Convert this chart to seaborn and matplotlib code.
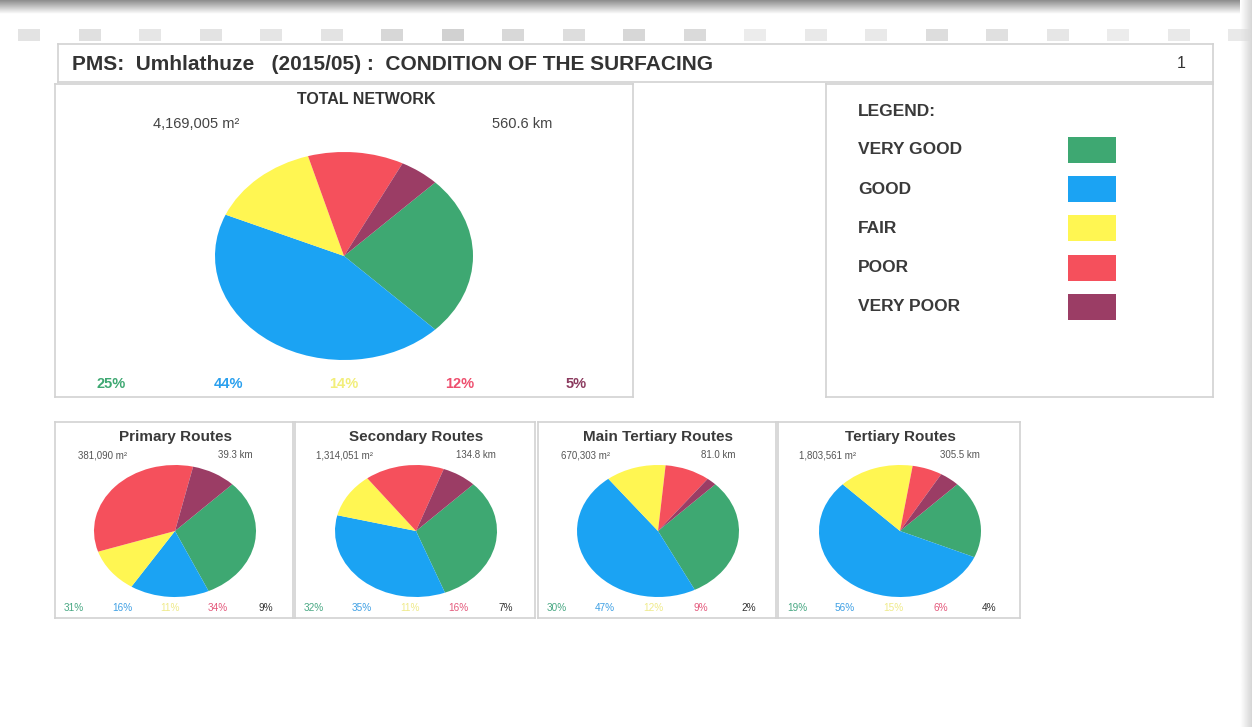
import numpy as np
import matplotlib
matplotlib.use("Agg")
import matplotlib.pyplot as plt
import seaborn as sns

# ---- data -------------------------------------------------------------
conditions = ["VERY GOOD", "GOOD", "FAIR", "POOR", "VERY POOR"]
condition_colors = ["#3EA872", "#1BA3F3", "#FFF652", "#F5505C", "#9B3D65"]
pct_colors_total = ["#3EA872", "#2AA0EE", "#F2EE7A", "#EE4F6E", "#8B3A5E"]
pct_colors_small = ["#48A883", "#3FA0E4", "#EFEA8A", "#E45A7C", "#333333"]

total_pct = [25, 44, 14, 12, 5]
total_area = "4,169,005 m²"
total_length = "560.6 km"

route_names = ["Primary Routes", "Secondary Routes", "Main Tertiary Routes", "Tertiary Routes"]
route_areas = ["381,090 m²", "1,314,051 m²", "670,303 m²", "1,803,561 m²"]
route_lengths = ["39.3 km", "134.8 km", "81.0 km", "305.5 km"]
primary_pct = [31, 16, 11, 34, 9]
secondary_pct = [32, 35, 11, 16, 7]
main_tertiary_pct = [30, 47, 12, 9, 2]
tertiary_pct = [19, 56, 15, 6, 4]
route_pcts = [primary_pct, secondary_pct, main_tertiary_pct, tertiary_pct]

# ---- styling ------------------------------------------------------------
sns.set_theme(style="white")
plt.rcParams["font.family"] = ["Liberation Sans", "DejaVu Sans"]

W, H = 1252, 727
fig = plt.figure(figsize=(W / 100, H / 100), dpi=100)
fig.patch.set_facecolor("white")


def px_axes(x0, y0, x1, y1, **kw):
    return fig.add_axes([x0 / W, 1 - y1 / H, (x1 - x0) / W, (y1 - y0) / H], **kw)


def px_text(x, y, s, **kw):
    kw.setdefault("ha", "center")
    kw.setdefault("va", "center")
    fig.text(x / W, 1 - y / H, s, **kw)


def box(x0, y0, x1, y1, edge="#d2d2d2"):
    ax = px_axes(x0, y0, x1, y1)
    ax.set_xticks([])
    ax.set_yticks([])
    ax.set_facecolor("none")
    for sp in ax.spines.values():
        sp.set_color(edge)
        sp.set_linewidth(1.2)
    return ax


def draw_pie(cx, cy, rx, ry, values):
    ax = px_axes(cx - rx, cy - ry, cx + rx, cy + ry)
    ax.pie(values, colors=condition_colors, startangle=45, counterclock=False,
           radius=1, wedgeprops=dict(linewidth=0, antialiased=True))
    ax.set_aspect("auto")
    ax.set_xlim(-1, 1)
    ax.set_ylim(-1, 1)
    ax.axis("off")
    return ax


# ---- page frame: top shadow and the faint row of toolbar squares -------
band = px_axes(0, 0, W, 14)
grad = np.linspace(0.55, 1.0, 50).reshape(-1, 1)
band.imshow(grad, cmap="gray", vmin=0, vmax=1, aspect="auto", extent=[0, 1, 0, 1])
band.axis("off")

side = px_axes(W - 12, 0, W, H)
side.imshow(np.linspace(1.0, 0.84, 20).reshape(1, -1), cmap="gray", vmin=0, vmax=1,
            aspect="auto", extent=[0, 1, 0, 1])
side.axis("off")

strip = px_axes(0, 26, W, 44)
strip.set_xlim(0, W)
strip.set_ylim(0, 18)
strip.axis("off")
square_shades = [0.82, 0.8, 0.84, 0.82, 0.83, 0.82, 0.74, 0.7, 0.75, 0.78, 0.74, 0.76,
                 0.88, 0.86, 0.86, 0.78, 0.8, 0.84, 0.88, 0.86, 0.86]
for i, shade in enumerate(square_shades):
    x = 18 + i * 60.5
    strip.add_patch(plt.Rectangle((x, 3), 22, 12, color=str(shade), lw=0, alpha=0.6))

# ---- title bar -----------------------------------------------------------
box(58, 44, 1213, 82)
px_text(72, 64, "PMS:  Umhlathuze   (2015/05) :  CONDITION OF THE SURFACING",
        ha="left", fontsize=15, fontweight="bold", color="#333333")
px_text(1181, 64, "1", fontsize=11.5, color="#333333")

# ---- total network -------------------------------------------------------
box(55, 84, 633, 397)
px_text(366, 100, "TOTAL NETWORK", fontsize=11.5, fontweight="bold", color="#333333")
px_text(196, 124, total_area, fontsize=10.5, color="#444444")
px_text(522, 124, total_length, fontsize=10.5, color="#444444")
draw_pie(344, 256, 129, 104, total_pct)
for x, v, c in zip([111, 228, 344, 460, 576], total_pct, pct_colors_total):
    px_text(x, 384, f"{v}%", fontsize=10.5, fontweight="bold", color=c)

# ---- legend ----------------------------------------------------------------
box(826, 84, 1213, 397)
px_text(858, 112, "LEGEND:", ha="left", fontsize=12.5, fontweight="bold", color="#3a3a3a")
for i, (name, col) in enumerate(zip(conditions, condition_colors)):
    y = 150 + i * 39.2
    px_text(858, y, name, ha="left", fontsize=12.5, fontweight="bold", color="#3a3a3a")
    sw = px_axes(1068, y - 13, 1116, y + 13)
    sw.set_facecolor(col)
    sw.set_xticks([])
    sw.set_yticks([])
    for sp in sw.spines.values():
        sp.set_visible(False)

# ---- route type panels ---------------------------------------------------
panel_edges = [(55, 293), (295, 535), (538, 776), (778, 1020)]
for (x0, x1), name, area, length, pcts in zip(panel_edges, route_names, route_areas,
                                               route_lengths, route_pcts):
    box(x0, 422, x1, 618)
    cx = (x0 + x1) / 2 + 1
    px_text(cx, 437, name, fontsize=11, fontweight="bold", color="#3a3a3a")
    px_text(cx - 72, 455, area, fontsize=7, color="#555555")
    px_text(cx + 60, 455, length, fontsize=7, color="#555555")
    draw_pie(cx, 531, 81, 66, pcts)
    for j, (v, c) in enumerate(zip(pcts, pct_colors_small)):
        px_text(x0 + 19 + j * 48, 608, f"{v}%", fontsize=7.2, color=c)

fig.savefig("out.png", dpi=100, facecolor="white")
